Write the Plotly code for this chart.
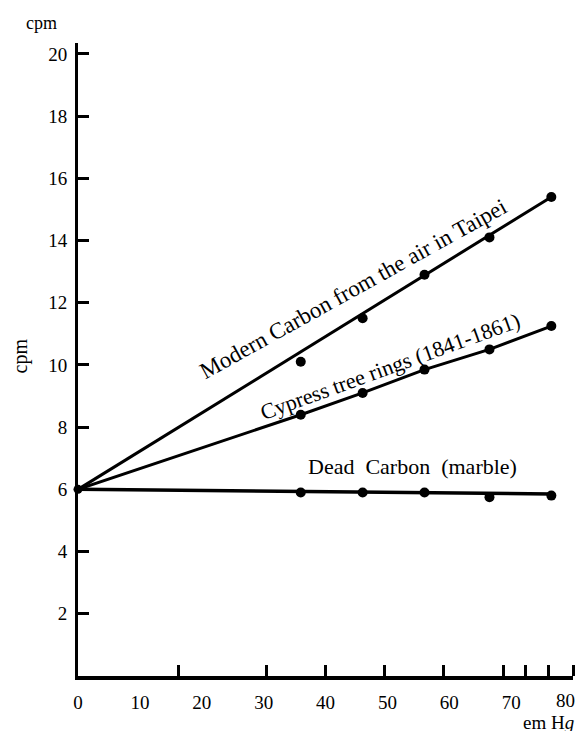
import plotly.graph_objects as go

# Data (pressure in cm Hg, counts per minute)
pressure = [36, 46, 56, 66.5, 76.5]
modern_cpm = [10.1, 11.5, 12.9, 14.1, 15.4]
cypress_cpm = [8.4, 9.1, 9.85, 10.5, 11.25]
dead_cpm = [5.9, 5.9, 5.9, 5.75, 5.8]

origin_p = [0]
origin_cpm = [6.0]

modern_fit_p = [0, 76.5]
modern_fit_cpm = [6.0, 15.4]
dead_fit_p = [0, 76.5]
dead_fit_cpm = [6.0, 5.85]

x_ticks = [0, 10, 20, 30, 40, 50, 60, 70, 80]
x_tick_marks = [16.2, 30.4, 40, 49.5, 59, 68.8, 72.3, 76, 80]
y_ticks = [2, 4, 6, 8, 10, 12, 14, 16, 18, 20]

FONT = "Liberation Serif, Times New Roman, serif"

fig = go.Figure()

line_style = dict(color="black", width=3)
marker_style = dict(color="black", size=10, symbol="circle")

# Modern carbon: fitted straight line + points
fig.add_trace(go.Scatter(x=modern_fit_p, y=modern_fit_cpm, mode="lines",
                         line=line_style, showlegend=False, hoverinfo="skip"))
fig.add_trace(go.Scatter(x=pressure, y=modern_cpm, mode="markers",
                         marker=marker_style, showlegend=False))
# Cypress: line through points
fig.add_trace(go.Scatter(x=origin_p + pressure, y=origin_cpm + cypress_cpm,
                         mode="lines", line=line_style, showlegend=False,
                         hoverinfo="skip"))
fig.add_trace(go.Scatter(x=pressure, y=cypress_cpm, mode="markers",
                         marker=marker_style, showlegend=False))
# Dead carbon
fig.add_trace(go.Scatter(x=dead_fit_p, y=dead_fit_cpm, mode="lines",
                         line=dict(color="black", width=3.5), showlegend=False,
                         hoverinfo="skip"))
fig.add_trace(go.Scatter(x=pressure, y=dead_cpm, mode="markers",
                         marker=marker_style, showlegend=False))
# Origin
fig.add_trace(go.Scatter(x=origin_p, y=origin_cpm, mode="markers",
                         marker=dict(color="black", size=9, symbol="circle"),
                         showlegend=False, cliponaxis=False))

# x tick labels: the last one is drawn as an annotation so it stays on the page
x_ticktext = [str(v) for v in x_ticks[:-1]] + [""]

annotations = [
    dict(x=44.6, y=12.45, text="Modern Carbon from the air in Taipei",
         textangle=-29, font=dict(size=23)),
    dict(x=50.4, y=9.95, text="Cypress tree rings (1841-1861)",
         textangle=-20, font=dict(size=22)),
    dict(x=54.0, y=6.72, text="Dead\u00a0 Carbon\u00a0 (marble)", textangle=0,
         font=dict(size=22)),
    dict(x=x_ticks[-1], y=0, xanchor="right", yanchor="top", xshift=4, yshift=-12,
         text=str(x_ticks[-1]), font=dict(size=19)),
    dict(x=0, y=1.0, xref="paper", yref="paper", xanchor="right", yanchor="bottom",
         xshift=-19, yshift=8, text="cpm", font=dict(size=18)),
    dict(x=-0.117, y=0.505, xref="paper", yref="paper", xanchor="center",
         yanchor="middle", text="cpm", textangle=-90, font=dict(size=20)),
    dict(x=1.0, y=0, xref="paper", yref="paper", xanchor="right", yanchor="top",
         yshift=-34, xshift=3, text="em H<i>g</i>", font=dict(size=19)),
]
for a in annotations:
    a.setdefault("xref", "x")
    a.setdefault("yref", "y")
    a["showarrow"] = False
    a["font"]["family"] = FONT
    a["font"]["color"] = "black"
    fig.add_annotation(**a)

fig.update_xaxes(range=[0, 80], tickvals=x_ticks, ticktext=x_ticktext,
                 showgrid=False, zeroline=False, showline=True, linecolor="black",
                 linewidth=4, ticks="", ticklabelstandoff=6,
                 minor=dict(tickvals=x_tick_marks, ticks="inside", ticklen=11,
                            tickwidth=3, tickcolor="black", showgrid=False),
                 tickfont=dict(family=FONT, size=19, color="black"))
fig.update_yaxes(range=[0, 20.35], tickvals=y_ticks, ticktext=[str(v) for v in y_ticks],
                 showgrid=False, zeroline=False, showline=True, linecolor="black",
                 linewidth=3, ticks="inside", ticklen=11, tickwidth=3, tickcolor="black",
                 ticklabelstandoff=4,
                 tickfont=dict(family=FONT, size=19, color="black"))

fig.update_layout(width=569, height=723, plot_bgcolor="white", paper_bgcolor="white",
                  margin=dict(l=70, r=4, t=35, b=55), showlegend=False)

fig.write_html("out.html", config={"displayModeBar": False})
